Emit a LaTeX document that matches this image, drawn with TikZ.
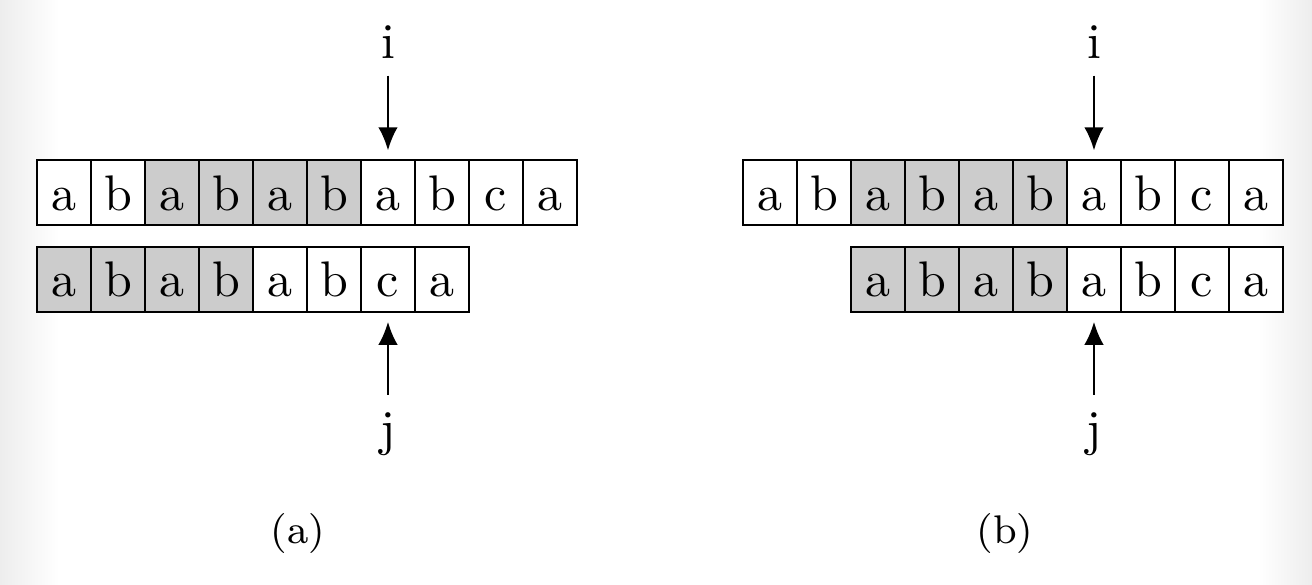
\documentclass[tikz,border=0pt]{standalone}
\usetikzlibrary{arrows.meta}
\tikzset{
	cell/.style={draw,inner sep=0pt,outer sep=0pt,minimum width=10.8pt,minimum height=13pt,text height=7pt,text depth=0pt},
	caption/.style={anchor=base,font=\footnotesize},
}
\begin{document}
\begin{tikzpicture}[>={Latex[length=4.6pt,width=3.9pt]},x=10.8pt,y=10.8pt]
	\useasboundingbox (0,0) rectangle (24.296,-10.815);
	\shade[left color=black!7,right color=white] (0,0) rectangle (1.1,-10.815);
	\shade[left color=white,right color=black!7] (23.3,0) rectangle (24.296,-10.815);
	% (a)
	\begin{scope}
		\foreach \c/\f [count=\k] in {a/white,b/white,a/black!20,b/black!20,a/black!20,b/black!20,a/white,b/white,c/white,a/white}
			\node[cell,fill=\f] (ta\k) at (\k+0.185,-3.57) {\c}
		;
		\foreach \c/\f [count=\k] in {a/black!20,b/black!20,a/black!20,b/black!20,a/white,b/white,c/white,a/white}
			\node[cell,fill=\f] (ba\k) at (\k+0.185,-5.173) {\c}
		;
		\node[anchor=base] (ia) at (ta7 |- 0,-1.074) {i};
		\node[anchor=base] (ja) at (ba7 |- 0,-8.241) {j};
		\draw[->,shorten >=2pt] (ia) -- (ta7);
		\draw[->,shorten >=2pt] (ja) -- (ba7);
		\node[caption] (capa) at (5.519,-10.056) {(a)};
	\end{scope}
	% (b)
	\begin{scope}
		\foreach \c/\f [count=\k] in {a/white,b/white,a/black!20,b/black!20,a/black!20,b/black!20,a/white,b/white,c/white,a/white}
			\node[cell,fill=\f] (tb\k) at (\k+13.259,-3.57) {\c}
		;
		\foreach \c/\f [count=\k] in {a/black!20,b/black!20,a/black!20,b/black!20,a/white,b/white,c/white,a/white}
			\node[cell,fill=\f] (bb\k) at (\k+15.259,-5.173) {\c}
		;
		\node[anchor=base] (ib) at (tb7 |- 0,-1.074) {i};
		\node[anchor=base] (jb) at (bb5 |- 0,-8.241) {j};
		\draw[->,shorten >=2pt] (ib) -- (tb7);
		\draw[->,shorten >=2pt] (jb) -- (bb5);
		\node[caption] (capb) at (18.61,-10.056) {(b)};
	\end{scope}
\end{tikzpicture}
\end{document}
